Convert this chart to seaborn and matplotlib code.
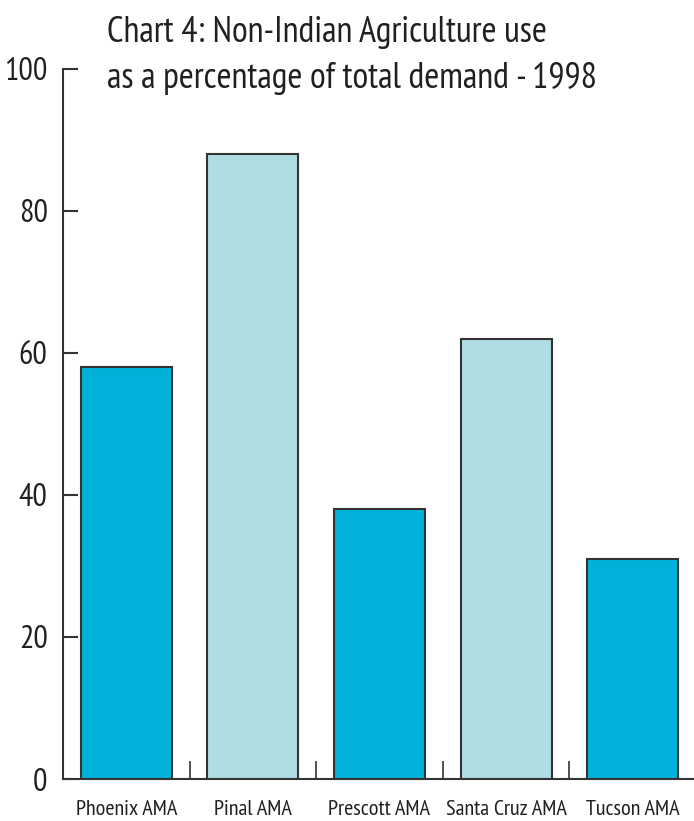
import matplotlib
matplotlib.use("Agg")
import matplotlib.pyplot as plt
import seaborn as sns
import pandas as pd

categories = ["Phoenix AMA", "Pinal AMA", "Prescott AMA", "Santa Cruz AMA", "Tucson AMA"]
values = [58, 88, 38, 62, 31]
bar_colors = ["#00B2D9", "#B0DDE3", "#00B2D9", "#B0DDE3", "#00B2D9"]
yticks = [0, 20, 40, 60, 80, 100]
title_lines = ["Chart 4: Non-Indian Agriculture use", "as a percentage of total demand - 1998"]

sns.set_style("white")
FONT = ["PT Sans Narrow", "Roboto Condensed", "DejaVu Sans"]
plt.rcParams["font.family"] = FONT

df = pd.DataFrame({"cat": categories, "val": values})

fig = plt.figure(figsize=(6.94, 8.21), dpi=100)
ax = fig.add_axes([63/694, 1 - 779/821, (696 - 63)/694, (779 - 69)/821])

sns.barplot(data=df, x="cat", y="val", hue="cat", palette=bar_colors, legend=False,
            width=0.72, edgecolor="#333333", linewidth=1.5, saturation=1, ax=ax)

ax.set_xlim(-0.5, 4.5)
ax.set_ylim(0, 100)
ax.set_xlabel("")
ax.set_ylabel("")
for s in ["top", "right"]:
    ax.spines[s].set_visible(False)
for s in ["left", "bottom"]:
    ax.spines[s].set_color("#333333")
    ax.spines[s].set_linewidth(1.5)

ax.set_yticks(yticks)
ax.set_yticklabels([str(v) for v in yticks])
ax.tick_params(axis="y", left=True, direction="in", length=11, width=1.5, color="#333333",
               labelsize=23, pad=11, labelcolor="#231F20")
ax.set_xticks(range(len(categories)))
ax.set_xticklabels(categories)
ax.tick_params(axis="x", which="major", bottom=True, length=0, labelsize=16, pad=15,
               labelcolor="#231F20")
ax.set_xticks([0.5, 1.5, 2.5, 3.5], minor=True)
ax.tick_params(axis="x", which="minor", bottom=True, direction="in", length=13, width=1.2,
               color="#333333")

for i, (line, base) in enumerate(zip(title_lines, [42, 88])):
    fig.text(107/694, 1 - base/821, line, ha="left", va="baseline",
             fontsize=26, color="#231F20", family=FONT)

fig.savefig("out.png", dpi=100)
